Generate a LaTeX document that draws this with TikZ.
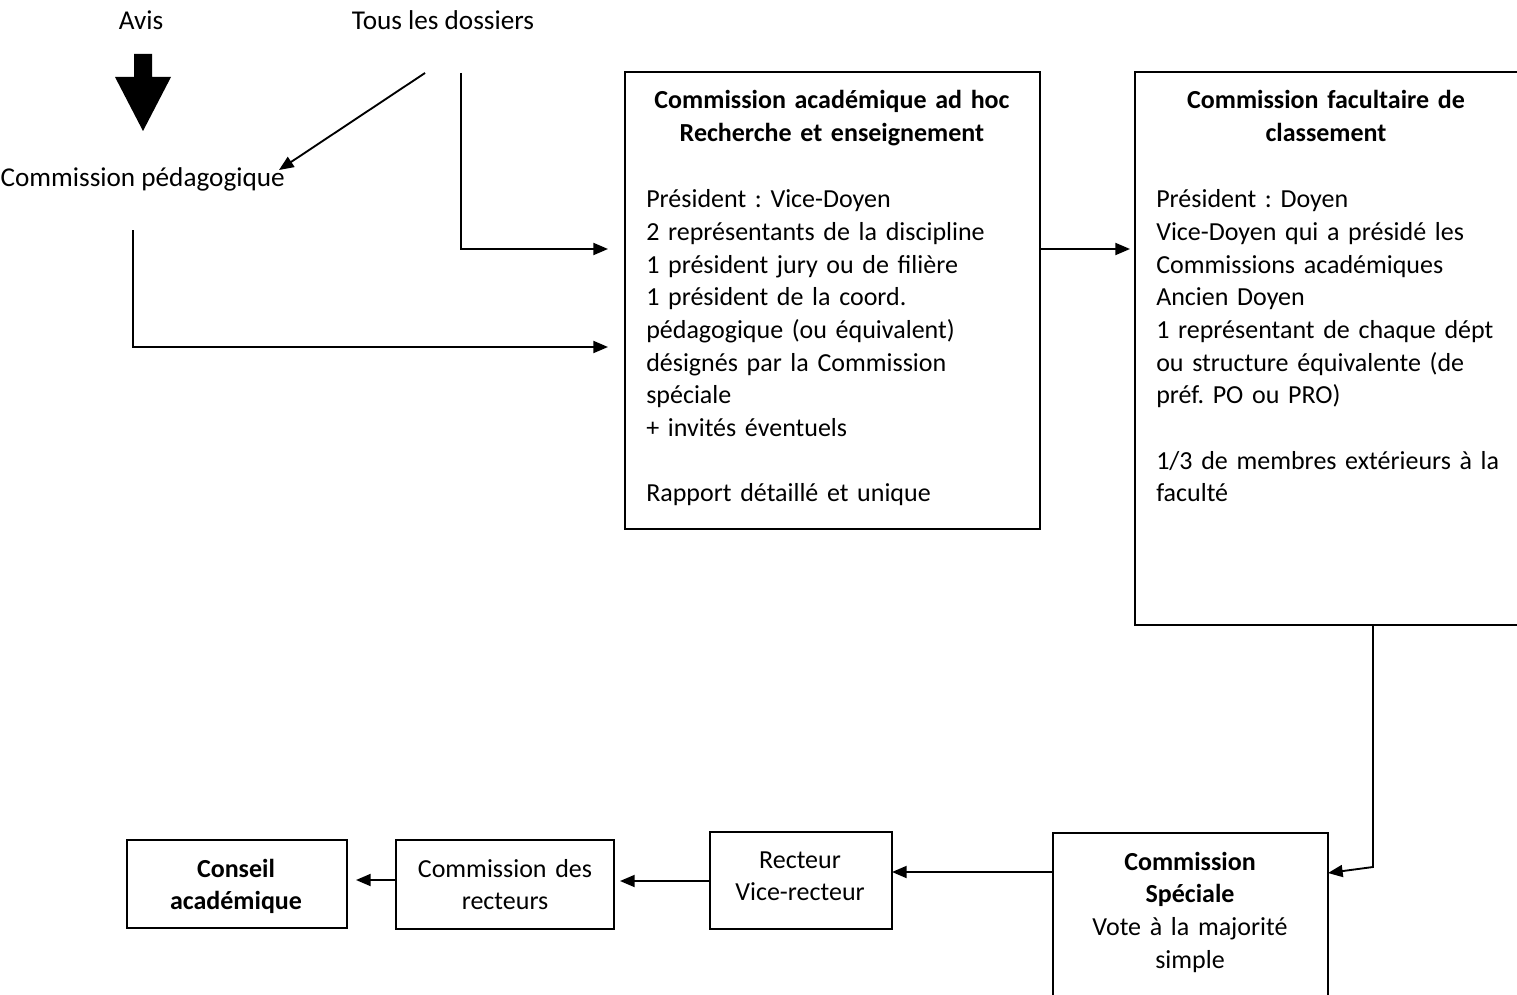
\documentclass[tikz,border=0pt]{standalone}
\usepackage{fontspec}
\setmainfont{Carlito}
\usetikzlibrary{arrows.meta,fit}
\frenchspacing
\begin{document}
\begin{tikzpicture}[x=0.75pt,y=-0.75pt,
  box/.style={draw, line width=1.4pt, inner sep=0pt},
  txt/.style={inner sep=0pt, font=\fontsize{19.5}{24.5}\selectfont},
  toplbl/.style={inner sep=0pt, font=\fontsize{20.4}{24.5}\selectfont},
  body/.style={txt, align=left, anchor=base west, text width=#1},
  title/.style={txt, align=center, anchor=base, text width=#1, font=\fontsize{19.5}{24.5}\selectfont\bfseries},
  ctr/.style={txt, align=center, anchor=base},
  conn/.style={line width=1.4pt, -{Triangle[length=11pt,width=9pt]}},
]
\useasboundingbox (0,0) rectangle (1517,995);

% top labels
\node[toplbl, anchor=base] (avis) at (141,30) {Avis};
\node[toplbl, anchor=base] (tous) at (443,30) {Tous les dossiers};
\node[toplbl, anchor=base east] (pedag) at (285,187) {Commission pédagogique};

% big block arrow
\fill (134,54) -- (152,54) -- (152,77) -- (171,77) -- (143,131) -- (115,77) -- (134,77) -- cycle;

% boxes
\node[box, fit={(625,72) (1040,529)}] (b1) {};
\node[box, fit={(1135,72) (1540,625)}] (b2) {};
\node[box, fit={(1053,833) (1328,1010)}] (cs) {};
\node[box, fit={(710,832) (892,929)}] (rec) {};
\node[box, fit={(396,840) (614,929)}] (cdr) {};
\node[box, fit={(127,840) (347,928)}] (ca) {};

% box 1 text
\node[title=400pt] (b1t) at (832,109) {Commission académique ad hoc\\Recherche et enseignement};
\node[body=300pt] (b1b) at (646,208) {Président : Vice-Doyen\\
2 représentants de la discipline\\
1 président jury ou de filière\\
1 président de la coord.\\
pédagogique (ou équivalent)\\
désignés par la Commission\\
spéciale\\
+ invités éventuels\\[24.5pt]
Rapport détaillé et unique};

% box 2 text
\node[title=300pt] (b2t) at (1326,109) {Commission facultaire de\\classement};
\node[body=300pt] (b2b) at (1156,208) {Président : Doyen\\
Vice-Doyen qui a présidé les\\
Commissions académiques\\
Ancien Doyen\\
1 représentant de chaque dépt\\
ou structure équivalente (de\\
préf. PO ou PRO)\\[24.5pt]
1/3 de membres extérieurs à la\\
faculté};

% bottom boxes text
\node[ctr, text width=200pt] (cst) at (1190,870) {\textbf{Commission}\\\textbf{Spéciale}\\Vote à la majorité\\simple};
\node[ctr, text width=130pt] (rect) at (800,868) {Recteur\\Vice-recteur};
\node[ctr, text width=160pt] (cdrt) at (505,877) {Commission des\\recteurs};
\node[ctr, text width=160pt, font=\fontsize{19.5}{24.5}\selectfont\bfseries] (cat) at (236,877) {Conseil\\académique};

% connector ends
\coordinate (d0) at (425,73);
\coordinate (d1) at (279,170);
\coordinate (t0) at (461,73);
\coordinate (t1) at (608,249);
\coordinate (p0) at (133,230);
\coordinate (p1) at (608,347);
\coordinate (e0) at (1040,249);
\coordinate (e1) at (1130,249);
\coordinate (f0) at (1373,625);
\coordinate (f1) at (1373,867);
\coordinate (f2) at (1328,873);
\coordinate (g0) at (1053,872);
\coordinate (g1) at (892,872);
\coordinate (h0) at (710,881);
\coordinate (h1) at (620,881);
\coordinate (k0) at (396,880);
\coordinate (k1) at (356,880);

\draw[conn] (d0) -- (d1);
\draw[conn] (t0) |- (t1);
\draw[conn] (p0) |- (p1);
\draw[conn] (e0) -- (e1);
\draw[conn] (f0) -- (f1) -- (f2);
\draw[conn] (g0) -- (g1);
\draw[conn] (h0) -- (h1);
\draw[conn] (k0) -- (k1);
\end{tikzpicture}
\end{document}
